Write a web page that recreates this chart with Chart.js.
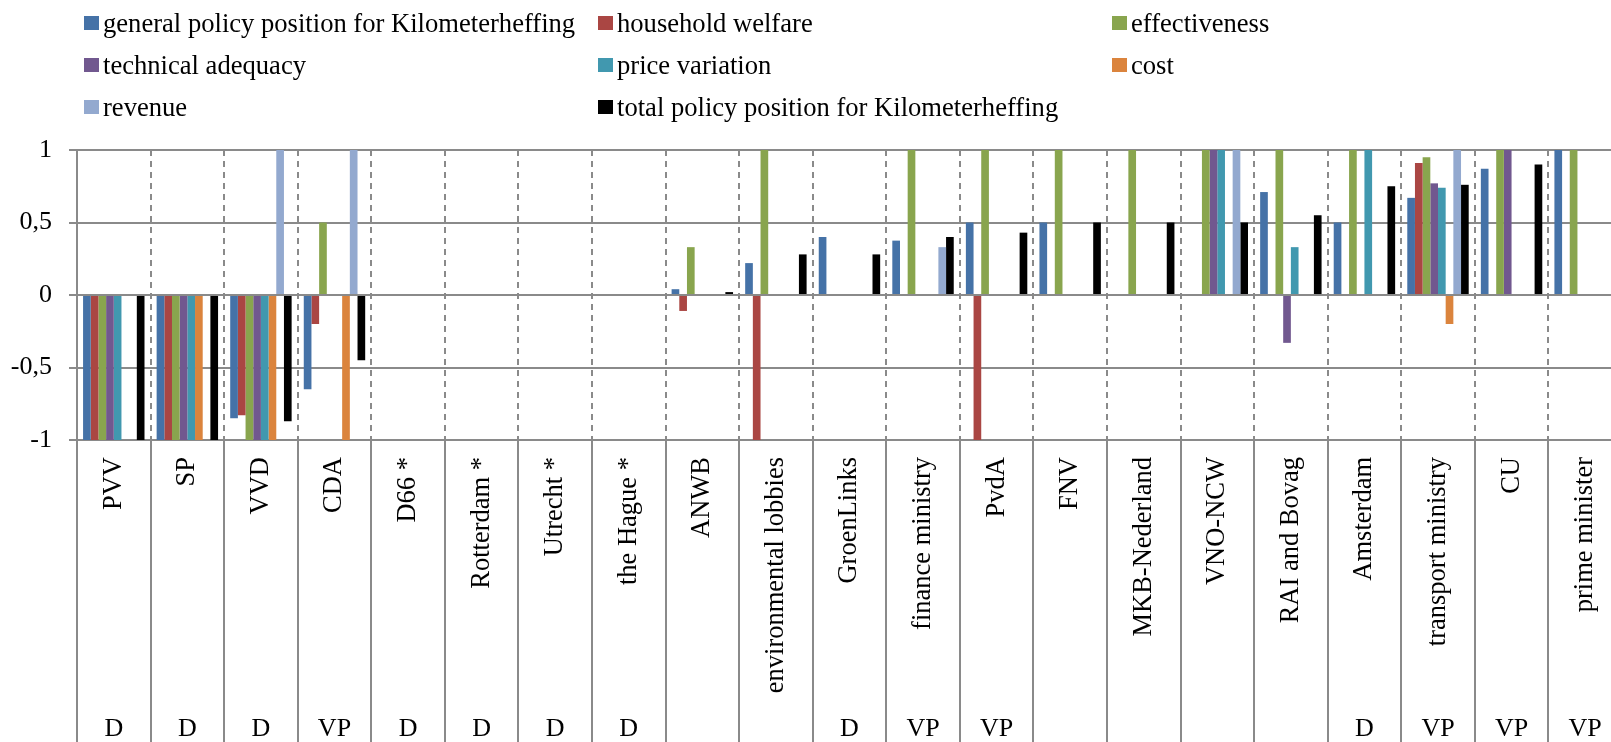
<!DOCTYPE html>
<html>
<head>
<meta charset="utf-8">
<script src="https://cdn.jsdelivr.net/npm/chart.js@4.4.0/dist/chart.umd.min.js"></script>
<style>
    body { margin: 0; overflow: hidden; background: #fff; }
    #graph-area { position: absolute; left: 0; top: 0; width: 1634px; height: 742px; }
    #legend {
        position: absolute; left: 84px; top: 2px; z-index: 2;
        display: grid; grid-template-columns: repeat(3, 514px); grid-auto-rows: 42px;
        font-family: 'Liberation Serif', 'Times New Roman', serif; font-size: 26.6px; color: #000;
    }
    #legend div { display: flex; align-items: center; white-space: nowrap; }
    #legend span.box { display: inline-block; width: 15px; height: 14px; margin-right: 4px; }
</style>
</head>
<body>
<div id="legend"></div>
<div id="graph-area"><canvas id="myChart"></canvas></div>
<script>
// Categories (actors) and the D / VP tag printed under each one
var actors = ['PVV', 'SP', 'VVD', 'CDA', 'D66 *', 'Rotterdam *', 'Utrecht *', 'the Hague *', 'ANWB',
    'environmental lobbies', 'GroenLinks', 'finance ministry', 'PvdA', 'FNV', 'MKB-Nederland', 'VNO-NCW',
    'RAI and Bovag', 'Amsterdam', 'transport ministry', 'CU', 'prime minister'];
var actorTags = ['D', 'D', 'D', 'VP', 'D', 'D', 'D', 'D', '', '', 'D', 'VP', 'VP', '', '', '', '', 'D', 'VP', 'VP', 'VP'];

var seriesNames = ['general policy position for Kilometerheffing', 'household welfare', 'effectiveness',
    'technical adequacy', 'price variation', 'cost', 'revenue', 'total policy position for Kilometerheffing'];
var seriesColors = ['#4572A7', '#AA4643', '#89A54E', '#71588F', '#4198AF', '#DB843D', '#93A9CF', '#000000'];

// values, null = no bar
var generalPolicy = [-1, -1, -0.85, -0.65, null, null, null, null, 0.04, 0.22, 0.40, 0.375, 0.5, 0.5, null, null, 0.71, 0.5, 0.67, 0.87, 1];
var householdWelfare = [-1, -1, -0.83, -0.2, null, null, null, null, -0.11, -1, null, null, -1, null, null, null, null, null, 0.91, null, null];
var effectiveness = [-1, -1, -1, 0.5, null, null, null, null, 0.33, 1, null, 1, 1, 1, 1, 1, 1, 1, 0.95, 1, 1];
var technicalAdequacy = [-1, -1, -1, null, null, null, null, null, null, null, null, null, null, null, null, 1, -0.33, null, 0.77, 1, null];
var priceVariation = [-1, -1, -1, null, null, null, null, null, null, null, null, null, null, null, null, 1, 0.33, 1, 0.74, null, null];
var cost = [null, -1, -1, -1, null, null, null, null, null, null, null, null, null, null, null, null, null, null, -0.2, null, null];
var revenue = [null, null, 1, 1, null, null, null, null, null, null, null, 0.33, null, null, null, 1, null, null, 1, null, null];
var totalPolicy = [-1, -1, -0.87, -0.45, null, null, null, null, 0.02, 0.28, 0.28, 0.40, 0.43, 0.5, 0.5, 0.5, 0.55, 0.75, 0.76, 0.9, null];

var yTicks = [-1, -0.5, 0, 0.5, 1];

var seriesData = [generalPolicy, householdWelfare, effectiveness, technicalAdequacy, priceVariation, cost, revenue, totalPolicy];
var gridGray = '#8a8a8a';
var fontFamily = "'Liberation Serif', 'Times New Roman', serif";

// legend in three columns like the original
var legendBox = document.getElementById('legend');
for (let i = 0; i < seriesNames.length; i++) {
    var item = document.createElement('div');
    item.innerHTML = '<span class="box" style="background:' + seriesColors[i] + '"></span>' + seriesNames[i];
    legendBox.appendChild(item);
}

// solid dividers and the D / VP row below the rotated labels
var bottomRowPlugin = {
    id: 'bottomRow',
    afterDraw: function(chart) {
        var xs = chart.scales.x;
        var ctx = chart.ctx;
        var catW = xs.getPixelForValue(1) - xs.getPixelForValue(0);
        ctx.save();
        ctx.strokeStyle = gridGray;
        ctx.lineWidth = 2;
        for (let i = 0; i <= actors.length; i++) {
            var x = Math.round(xs.getPixelForValue(i) - catW / 2);
            ctx.beginPath();
            ctx.moveTo(x, chart.chartArea.bottom);
            ctx.lineTo(x, xs.bottom);
            ctx.stroke();
        }
        ctx.fillStyle = '#000';
        ctx.font = '26px ' + fontFamily;
        ctx.textAlign = 'center';
        ctx.textBaseline = 'alphabetic';
        for (let i = 0; i < actorTags.length; i++) {
            ctx.fillText(actorTags[i], xs.getPixelForValue(i), xs.bottom - 6);
        }
        ctx.restore();
    }
};

var datasets = [];
for (let i = 0; i < seriesNames.length; i++) {
    datasets.push({
        label: seriesNames[i],
        data: seriesData[i],
        backgroundColor: seriesColors[i],
        borderWidth: 0,
        categoryPercentage: 0.835,
        barPercentage: 1
    });
}

var ctx = document.getElementById('myChart').getContext('2d');
new Chart(ctx, {
    type: 'bar',
    data: {
        labels: actors,
        datasets: datasets
    },
    plugins: [bottomRowPlugin],
    options: {
        responsive: true,
        maintainAspectRatio: false,
        animation: false,
        layout: { padding: { top: 150, right: 3, left: 0, bottom: 0 } },
        scales: {
            x: {
                grid: { color: gridGray, lineWidth: 2, drawTicks: false, offset: true },
                border: { display: false, dash: [6, 5] },
                ticks: {
                    autoSkip: false, minRotation: 90, maxRotation: 90, padding: 17,
                    color: '#000', font: { family: fontFamily, size: 26.5 }
                },
                afterFit: function(scale) { scale.height = 302; }
            },
            y: {
                min: -1,
                max: 1,
                afterBuildTicks: function(scale) {
                    scale.ticks = yTicks.map(function(v) { return { value: v }; });
                },
                grid: { color: gridGray, lineWidth: 2, tickLength: 8 },
                border: { display: true, color: gridGray, width: 2 },
                ticks: {
                    padding: 17, color: '#000', font: { family: fontFamily, size: 26 },
                    callback: function(v) { return String(v).replace('.', ','); }
                },
                afterFit: function(scale) { scale.width = 77; }
            }
        },
        plugins: {
            legend: { display: false },
            tooltip: { enabled: false }
        }
    }
});
</script>
</body>
</html>
